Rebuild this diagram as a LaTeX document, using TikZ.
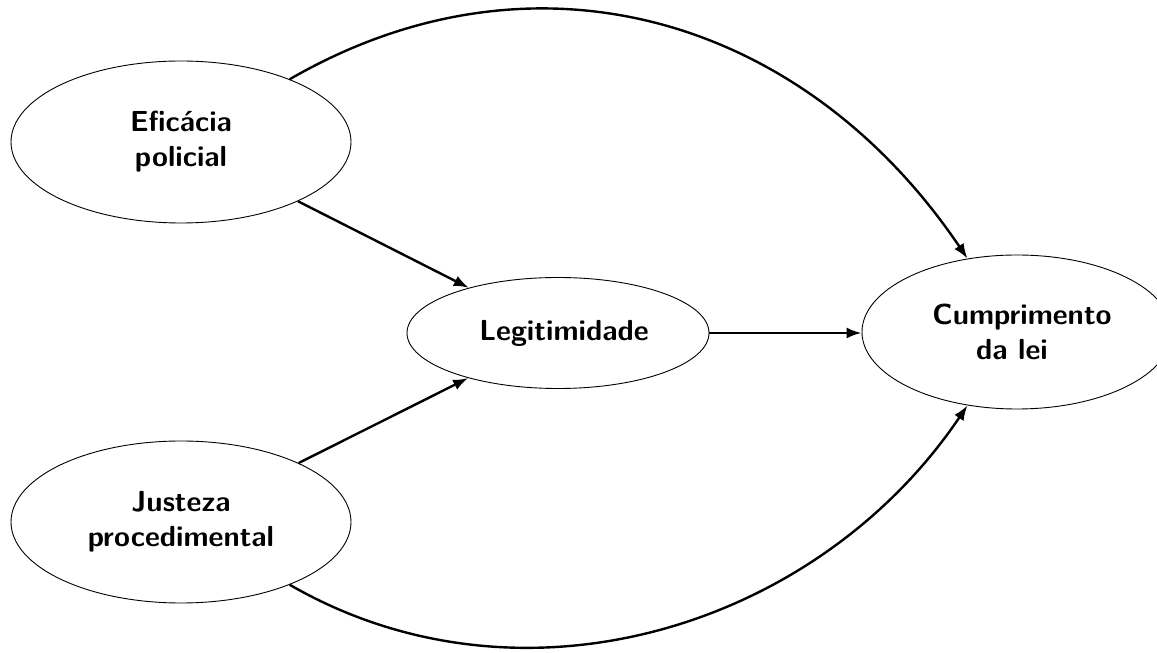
\documentclass[tikz,border=0pt]{standalone}
\usepackage{fontspec}
\usetikzlibrary{shapes.geometric,arrows.meta}
\begin{document}
\begin{tikzpicture}[x=1pt,y=1pt,
  concept/.style={draw, ellipse, line width=0.9pt, inner sep=0pt},
  caption/.style={align=center, font=\sffamily\bfseries\fontsize{29}{35}\selectfont},
  link/.style={line width=2.4pt, -{Latex[length=15pt,width=11pt]}}]
\useasboundingbox (0,0) rectangle (1157,653);

% construct ellipses
\node[concept, minimum width=340pt, minimum height=162pt] (eff) at (181,511) {};
\node[concept, minimum width=340pt, minimum height=162pt] (jus) at (181,131) {};
\node[concept, minimum width=302pt, minimum height=111pt] (leg) at (558,320) {};
\node[concept, minimum width=310pt, minimum height=154pt] (cum) at (1017,321) {};

% labels
\node[caption] (eff-t) at (181,511) {Eficácia\\policial};
\node[caption] (jus-t) at (181,131) {Justeza\\procedimental};
\node[caption] (leg-t) at (564,320) {Legitimidade};
\node[caption] (cum-t) at (1022,321) {Cumprimento\\\hspace*{-20pt}da lei};

% paths
\draw[link] (eff) -- (leg);
\draw[link] (jus) -- (leg);
\draw[link] (leg) -- (leg -| cum.west);
\draw[link] (eff) to[out=30, in=124, looseness=1.05] (cum);
\draw[link] (jus) to[out=-30, in=-124, looseness=0.98] (cum);
\end{tikzpicture}
\end{document}
